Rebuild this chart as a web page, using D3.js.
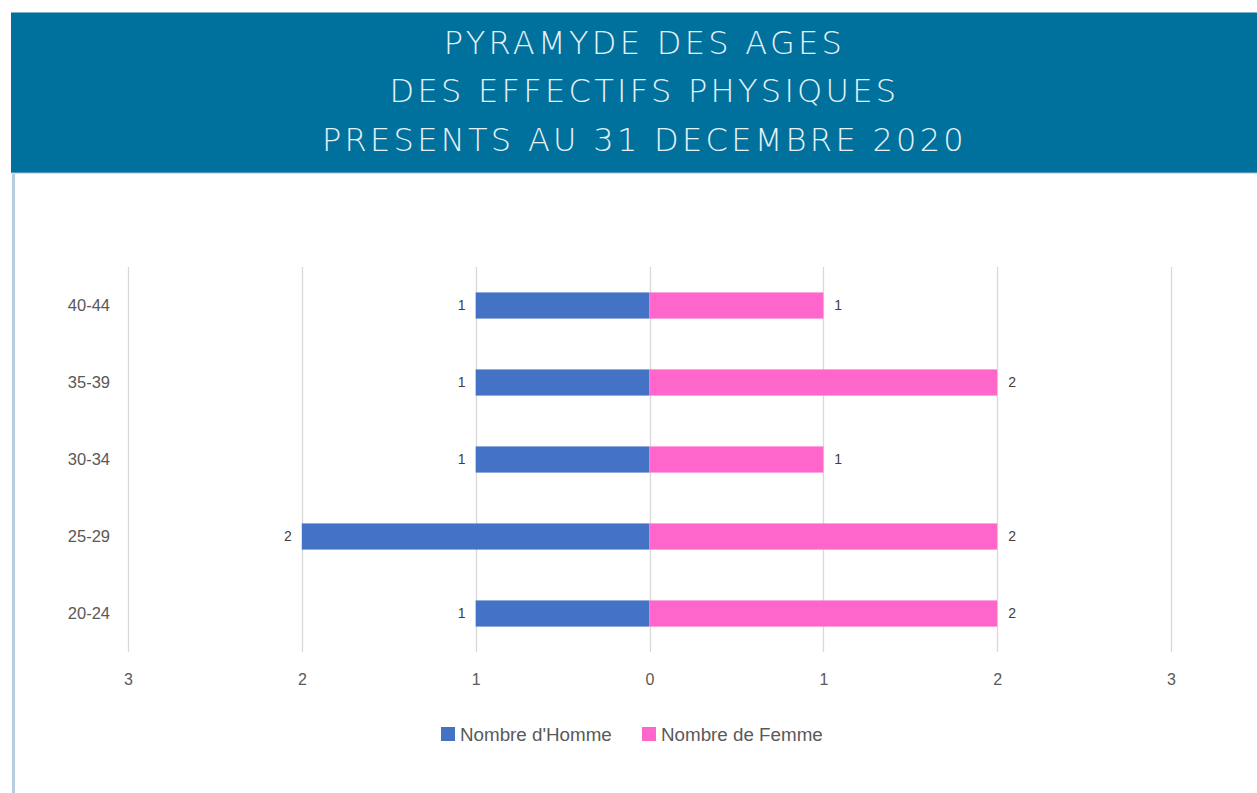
<!DOCTYPE html>
<html><head><meta charset="utf-8">
<script src="https://cdn.jsdelivr.net/npm/d3@7"></script>
<style>body{margin:0;background:#fff;overflow:hidden}</style>
</head><body><svg id="c" width="1257" height="793"></svg>
<script>
const titleLines = ["PYRAMYDE DES AGES", "DES EFFECTIFS PHYSIQUES", "PRESENTS AU 31 DECEMBRE 2020"];
const categories = ["40-44", "35-39", "30-34", "25-29", "20-24"];
const hommes = [1, 1, 1, 2, 1];
const femmes = [1, 2, 1, 2, 2];
const seriesNames = ["Nombre d'Homme", "Nombre de Femme"];
const seriesColors = ["#4472c4", "#ff66cc"];
const xTicks = [-3, -2, -1, 0, 1, 2, 3];

const svg = d3.select("#c");
// header band
svg.append("rect").attr("x", 11).attr("y", 12).attr("width", 1246).attr("height", 161).attr("fill", "#00719c");
svg.append("line").attr("x1", 11).attr("x2", 1257).attr("y1", 12.5).attr("y2", 12.5).attr("stroke", "#7fb2cc");
svg.append("line").attr("x1", 11).attr("x2", 1257).attr("y1", 173).attr("y2", 173).attr("stroke", "#9cc3d6");
svg.append("rect").attr("x", 12).attr("y", 174).attr("width", 3).attr("height", 619).attr("fill", "#b7cde0");

svg.selectAll("text.title").data(titleLines).join("text")
  .attr("x", 644.5).attr("y", (d, i) => 53.5 + i * 48.5)
  .attr("text-anchor", "middle")
  .attr("font-family", "DejaVu Sans, sans-serif").attr("font-weight", 200)
  .attr("font-size", 32).attr("letter-spacing", 3.3).attr("fill", "#e6f1f6").text(d => d);

const x = d3.scaleLinear().domain([-3, 3]).range([128, 1171]);
const y = d3.scaleBand().domain(categories).range([267, 652]).paddingInner(0.66).paddingOuter(0.33);

const font = "Liberation Sans, Arial, sans-serif";

// gridlines
svg.append("g").selectAll("line").data(xTicks).join("line")
  .attr("x1", d => Math.round(x(d)) + 0.5).attr("x2", d => Math.round(x(d)) + 0.5)
  .attr("y1", 267).attr("y2", 652).attr("stroke", "#d9d9d9").attr("stroke-width", 1.3);

// x tick labels
const xAxis = d3.axisBottom(x).tickValues(xTicks).tickFormat(d => Math.abs(d)).tickSize(0).tickPadding(0);
const gx = svg.append("g").attr("transform", "translate(0,685)").call(xAxis);
gx.select(".domain").remove();
gx.selectAll("text").attr("font-family", font)
  .attr("font-size", 16).attr("fill", "#595959").attr("dy", 0).attr("y", 0);

// y labels
const yAxis = d3.axisLeft(y).tickSize(0).tickPadding(0);
const gy = svg.append("g").attr("transform", "translate(110,0)").call(yAxis);
gy.select(".domain").remove();
gy.selectAll("text").attr("font-family", font)
  .attr("font-size", 16.5).attr("fill", "#595959");

// bars
svg.append("g").selectAll("rect").data(categories).join("rect")
  .attr("x", (d, i) => x(-hommes[i])).attr("width", (d, i) => x(0) - x(-hommes[i]))
  .attr("y", d => y(d)).attr("height", y.bandwidth()).attr("fill", seriesColors[0]);
svg.append("g").selectAll("rect").data(categories).join("rect")
  .attr("x", x(0)).attr("width", (d, i) => x(femmes[i]) - x(0))
  .attr("y", d => y(d)).attr("height", y.bandwidth()).attr("fill", seriesColors[1]);

// value labels
svg.append("g").selectAll("text").data(categories).join("text")
  .attr("x", (d, i) => x(-hommes[i]) - 10).attr("y", d => y(d) + y.bandwidth() / 2)
  .attr("dy", "0.35em").attr("text-anchor", "end").attr("font-family", font)
  .attr("font-size", 14).attr("fill", "#404040").text((d, i) => hommes[i]);
svg.append("g").selectAll("text").data(categories).join("text")
  .attr("x", (d, i) => x(femmes[i]) + 11).attr("y", d => y(d) + y.bandwidth() / 2)
  .attr("dy", "0.35em").attr("text-anchor", "start").attr("font-family", font)
  .attr("font-size", 14).attr("fill", "#404040").text((d, i) => femmes[i]);

// legend
const legX = [441, 642];
const leg = svg.append("g").selectAll("g").data(seriesNames).join("g")
  .attr("transform", (d, i) => `translate(${legX[i]},727)`);
leg.append("rect").attr("width", 14).attr("height", 14).attr("fill", (d, i) => seriesColors[i]);
leg.append("text").attr("x", 19).attr("y", 7).attr("dy", "0.35em")
  .attr("font-family", font).attr("font-size", 18.8).attr("fill", "#595959").text(d => d);
</script></body></html>
